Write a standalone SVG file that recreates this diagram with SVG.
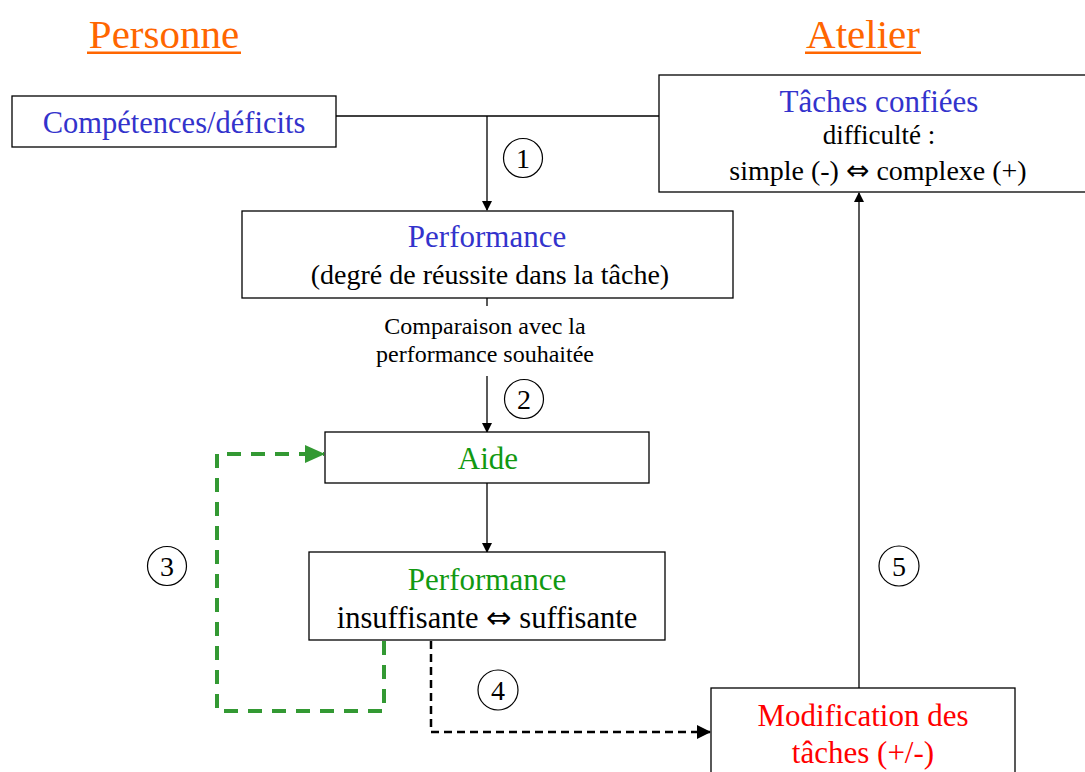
<svg xmlns="http://www.w3.org/2000/svg" width="1085" height="772" viewBox="0 0 1085 772">
<style>
text{font-family:"Liberation Serif","Times New Roman",serif;text-anchor:middle;font-variant-ligatures:none}
.box{fill:#fff;stroke:#000;stroke-width:1.3}
.ln{stroke:#000;stroke-width:1.3;fill:none}
.blue{fill:#3333CC}
.green{fill:#119911}
.red{fill:#FF0000}
.orange{fill:#FF6600}
.num{font-size:28px}
.circ{fill:none;stroke:#000;stroke-width:1.2}
.arr{font-family:"DejaVu Sans",sans-serif}
</style>
<defs>
<marker id="ah" markerWidth="10" markerHeight="10" refX="9" refY="5" orient="auto" markerUnits="userSpaceOnUse"><path d="M0,0 L10,5 L0,10 z" fill="#000"/></marker>
<marker id="ahb" markerWidth="14" markerHeight="14" refX="13" refY="7" orient="auto" markerUnits="userSpaceOnUse"><path d="M0,0 L14,7 L0,14 z" fill="#000"/></marker>
<marker id="ahg" markerWidth="20" markerHeight="20" refX="19" refY="10" orient="auto" markerUnits="userSpaceOnUse"><path d="M0,1 L20,10 L0,19 z" fill="#339933"/></marker>
</defs>
<g id="titles">
<text x="164" y="48" font-size="41" class="orange">Personne</text>
<rect x="87" y="51.5" width="154" height="2.5" fill="#FF6600"/>
<text x="863" y="48" font-size="41" class="orange">Atelier</text>
<rect x="805" y="51.5" width="116" height="2.5" fill="#FF6600"/>
</g>
<g id="connectors">
<path class="ln" d="M336,116 H659"/>
<path class="ln" d="M487,116 V210" marker-end="url(#ah)"/>
<path class="ln" d="M487,298 V306"/>
<path class="ln" d="M487,376 V432" marker-end="url(#ah)"/>
<path class="ln" d="M487,483 V552" marker-end="url(#ah)"/>
<path d="M384,641 V711 H217 V454 H324" fill="none" stroke="#339933" stroke-width="4" stroke-dasharray="14,10" marker-end="url(#ahg)"/>
<path d="M431,641 V732 H710" fill="none" stroke="#000" stroke-width="2.5" stroke-dasharray="8,5" marker-end="url(#ahb)"/>
<path class="ln" d="M859,688 V193" marker-end="url(#ah)"/>
</g>
<g id="competences">
<rect class="box" x="12" y="96" width="324" height="51"/>
<text x="174" y="133" font-size="30.5" class="blue">Compétences/déficits</text>
</g>
<g id="taches">
<rect class="box" x="659" y="75" width="430" height="117"/>
<text x="879" y="112" font-size="31" class="blue">Tâches confiées</text>
<text x="879" y="144" font-size="27">difficulté :</text>
<text x="878" y="180" font-size="28">simple (-) <tspan class="arr">⇔</tspan> complexe (+)</text>
</g>
<g id="performance1">
<rect class="box" x="242" y="211" width="491" height="87"/>
<text x="487" y="247" font-size="31" class="blue">Performance</text>
<text x="490" y="284" font-size="28">(degré de réussite dans la tâche)</text>
</g>
<g id="comparaison">
<text x="485" y="334" font-size="24">Comparaison avec la</text>
<text x="485" y="362" font-size="24">performance souhaitée</text>
</g>
<g id="aide">
<rect class="box" x="325" y="432" width="324" height="51"/>
<text x="488" y="469" font-size="31" class="green">Aide</text>
</g>
<g id="performance2">
<rect class="box" x="309" y="552" width="356" height="88"/>
<text x="487" y="590" font-size="31" class="green">Performance</text>
<text x="487" y="628" font-size="30.5">insuffisante <tspan class="arr">⇔</tspan> suffisante</text>
</g>
<g id="modification">
<rect class="box" x="711" y="688" width="304" height="100"/>
<text x="863" y="726" font-size="31" class="red">Modification des</text>
<text x="863" y="763" font-size="31" class="red">tâches (+/-)</text>
</g>
<g id="labels">
<circle class="circ" cx="523" cy="158" r="19.5"/><text class="num" x="523" y="168">1</text>
<circle class="circ" cx="524" cy="399" r="19.5"/><text class="num" x="524" y="409">2</text>
<circle class="circ" cx="167" cy="566" r="19.5"/><text class="num" x="167" y="576">3</text>
<circle class="circ" cx="498" cy="690" r="20"/><text class="num" x="498" y="700">4</text>
<circle class="circ" cx="899" cy="566" r="20"/><text class="num" x="899" y="576">5</text>
</g>
</svg>
